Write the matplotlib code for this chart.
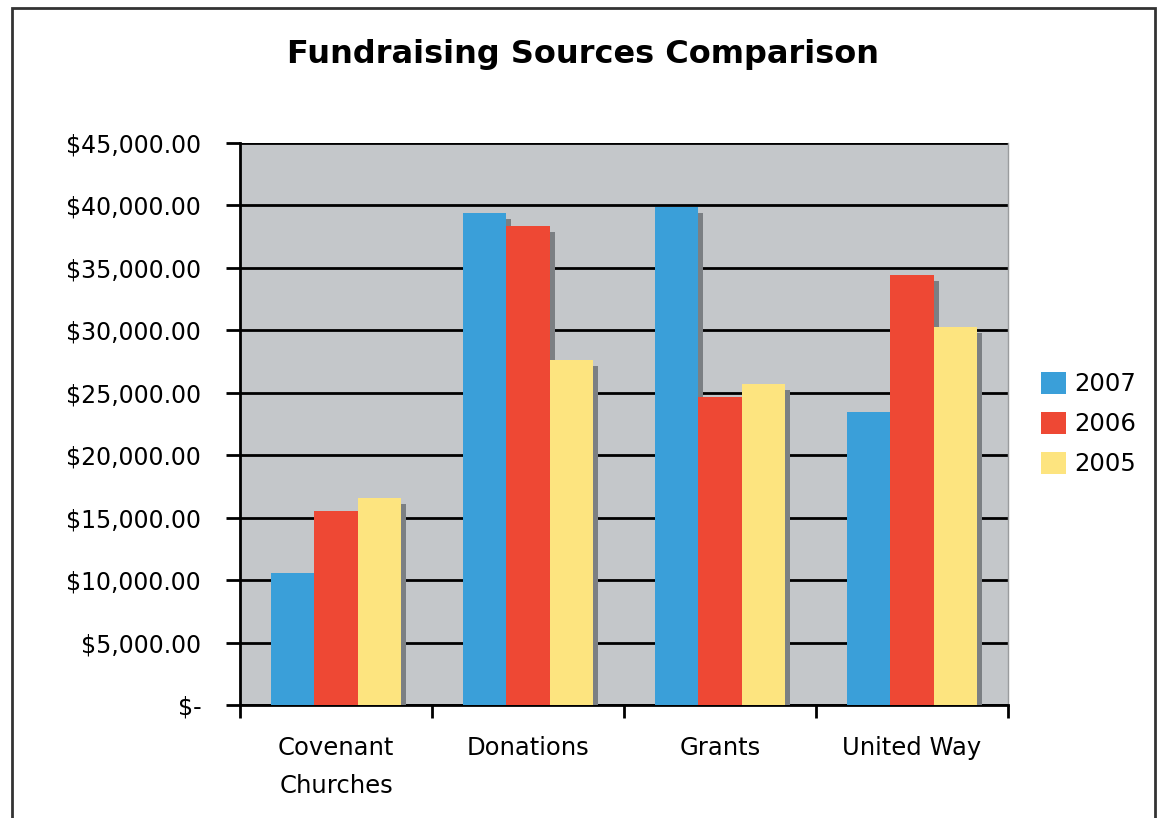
import numpy as np
import matplotlib
matplotlib.use('Agg')
import matplotlib.pyplot as plt
import matplotlib.patheffects as pe
from matplotlib.patches import Rectangle, Patch

categories = ['Covenant\nChurches', 'Donations', 'Grants', 'United Way']
years = ['2007', '2006', '2005']
v2007 = [10600, 39400, 39900, 23500]
v2006 = [15500, 38350, 24650, 34450]
v2005 = [16600, 27650, 25700, 30250]
colors = ['#3a9fd9', '#ee4834', '#fde47f']
yticks = [0, 5000, 10000, 15000, 20000, 25000, 30000, 35000, 40000, 45000]
ylabels = ['$-'] + ['${:,.2f}'.format(v) for v in yticks[1:]]

fig = plt.figure(figsize=(11.59, 8.18), dpi=100)
fig.patches.append(Rectangle((0.0104, -0.05), 0.9862, 1.0402, transform=fig.transFigure,
                             fill=False, edgecolor='#333333', linewidth=2))

ax = fig.add_axes([0.2071, 0.1381, 0.6626, 0.6871])
ax.set_facecolor('#c4c7ca')

x = np.arange(len(categories))
w = 0.226
shadow = [pe.SimplePatchShadow(offset=(3.6, -4.3), shadow_rgbFace='#7b7f83', alpha=1.0), pe.Normal()]
for i, vals in enumerate([v2007, v2006, v2005]):
    ax.bar(x + (i - 1) * w, vals, w, color=colors[i], zorder=3 + i, path_effects=shadow)

ax.set_xlim(-0.5, 3.5)
ax.set_ylim(0, 45000)
ax.set_yticks(yticks)
ax.set_yticklabels(ylabels, fontsize=17)
ax.yaxis.grid(True, color='black', linewidth=2, zorder=1)
ax.set_axisbelow(True)

ax.set_xticks([-0.5, 0.5, 1.5, 2.5, 3.5])
ax.set_xticklabels([])
ax.set_xticks(x, minor=True)
ax.set_xticklabels(categories, minor=True, fontsize=17.5, linespacing=1.75)
ax.tick_params(axis='x', which='minor', length=0, pad=22)
ax.tick_params(axis='x', which='major', length=9, width=2, direction='out')
ax.tick_params(axis='y', length=10, width=2, pad=18)

for s in ['left', 'bottom']:
    ax.spines[s].set_linewidth(2)
    ax.spines[s].set_color('black')
ax.spines['top'].set_visible(False)
ax.spines['right'].set_color('#9a9c9e')
ax.spines['right'].set_linewidth(1)

fig.text(0.503, 0.933, 'Fundraising Sources Comparison', ha='center', va='center',
         fontsize=23, fontweight='bold')

handles = [Patch(facecolor=c, label=y) for c, y in zip(colors, years)]
ax.legend(handles=handles, loc='center left', bbox_to_anchor=(1.015, 0.5), frameon=False,
          fontsize=17.5, handlelength=1.0, handleheight=1.0, handletextpad=0.35,
          labelspacing=0.65)

fig.savefig('out.png', dpi=100)
